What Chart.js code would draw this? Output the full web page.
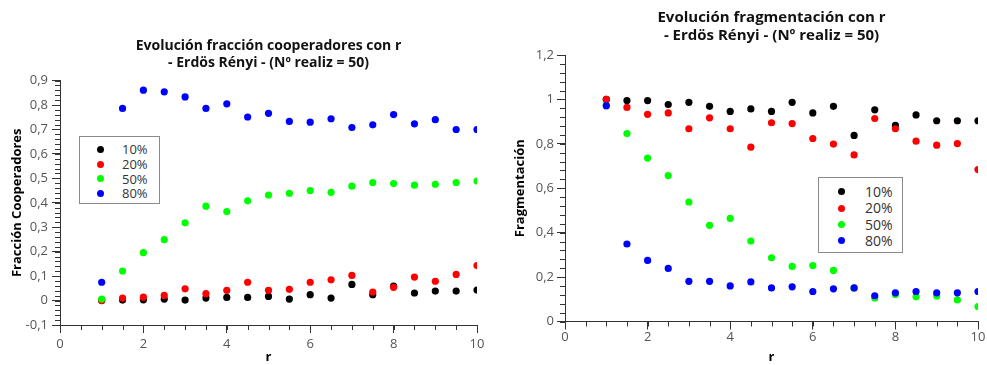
<!DOCTYPE html>
<html>
<head>
<meta charset="utf-8">
<script src="https://cdn.jsdelivr.net/npm/chart.js@4"></script>
<style>
  body { margin: 0; background: #fff; }
  #wrap { position: relative; width: 987px; height: 365px; overflow: hidden; }
  canvas { position: absolute; top: 0; }
  .legend { position: absolute; border: 1px solid #8a8a8a; background: #fff; box-sizing: border-box;
            font-family: "Open Sans", sans-serif; color: #333; }
  .legend .row { position: absolute; left: 0; right: 0; }
  .legend .dot { position: absolute; width: 7px; height: 7px; border-radius: 50%; }
  .legend .txt { position: absolute; white-space: nowrap; }
</style>
</head>
<body>
<div id="wrap">
  <canvas id="coopChart" width="490" height="365" style="left:0"></canvas>
  <canvas id="fragChart" width="497" height="365" style="left:490px"></canvas>
  <div id="coopLegend" class="legend"></div>
  <div id="fragLegend" class="legend"></div>
</div>
<script>
// ==========================
// DATA
// ==========================
const rValues = [1, 1.5, 2, 2.5, 3, 3.5, 4, 4.5, 5, 5.5, 6, 6.5, 7, 7.5, 8, 8.5, 9, 9.5, 10];
const seriesLabels = ["10%", "20%", "50%", "80%"];
const seriesColors = ["#000000", "#ff0000", "#00ff00", "#0000ff"];

// fracción cooperadores
const coop10 = [0.0, 0.002, 0.003, 0.006, 0.002, 0.010, 0.013, 0.013, 0.017, 0.006, 0.024, 0.010, 0.066, 0.024, 0.059, 0.031, 0.039, 0.039, 0.043];
const coop20 = [0.0, 0.010, 0.014, 0.021, 0.048, 0.028, 0.042, 0.075, 0.042, 0.046, 0.075, 0.085, 0.103, 0.035, 0.054, 0.096, 0.079, 0.107, 0.143];
const coop50 = [0.006, 0.121, 0.196, 0.249, 0.318, 0.386, 0.364, 0.408, 0.432, 0.439, 0.450, 0.443, 0.468, 0.483, 0.479, 0.472, 0.476, 0.483, 0.489];
const coop80 = [0.075, 0.786, 0.861, 0.854, 0.833, 0.786, 0.805, 0.751, 0.766, 0.733, 0.730, 0.744, 0.708, 0.719, 0.761, 0.723, 0.740, 0.700, 0.700];

// fragmentación
const frag10 = [1.0, 0.995, 0.995, 0.977, 0.987, 0.969, 0.946, 0.957, 0.946, 0.987, 0.939, 0.969, 0.838, 0.953, 0.883, 0.930, 0.904, 0.904, 0.904];
const frag20 = [1.0, 0.964, 0.933, 0.939, 0.868, 0.917, 0.868, 0.785, 0.895, 0.891, 0.824, 0.799, 0.750, 0.914, 0.868, 0.812, 0.794, 0.801, 0.684];
const frag50 = [0.972, 0.846, 0.736, 0.657, 0.538, 0.433, 0.464, 0.362, 0.287, 0.248, 0.252, 0.230, 0.150, 0.106, 0.122, 0.111, 0.115, 0.097, 0.067];
const frag80 = [0.972, 0.349, 0.275, 0.239, 0.181, 0.181, 0.160, 0.178, 0.151, 0.156, 0.135, 0.147, 0.151, 0.116, 0.129, 0.135, 0.129, 0.129, 0.135];

const coopTitle = ["Evolución fracción cooperadores con r", "- Erdös Rényi - (Nº realiz = 50)"];
const fragTitle = ["Evolución fragmentación con r", "- Erdös Rényi - (Nº realiz = 50)"];

// ==========================
// HELPERS
// ==========================
const fmtComma = v => String(Math.round(v * 100) / 100).replace(".", ",");

function makeDatasets(values) {
  return values.map((vals, i) => ({
    label: seriesLabels[i],
    data: rValues.map((r, j) => ({ x: r, y: vals[j] })),
    backgroundColor: seriesColors[i],
    borderWidth: 0,
    pointRadius: 3.6,
    order: values.length - i  // blue on top, black at bottom
  }));
}

// minor ticks drawn from the scales
const minorTicks = {
  id: "minorTicks",
  afterDraw(chart, args, opts) {
    const ctx = chart.ctx;
    ctx.save();
    ctx.strokeStyle = "#333";
    ctx.lineWidth = 1;
    ["x", "y"].forEach(id => {
      const scale = chart.scales[id];
      const step = opts[id];
      if (!scale || !step) return;
      const n = Math.round((scale.max - scale.min) / step);
      for (let k = 0; k <= n; k++) {
        const v = scale.min + k * step;
        ctx.beginPath();
        if (id === "x") {
          const px = Math.round(scale.getPixelForValue(v)) + 0.5;
          ctx.moveTo(px, scale.top);
          ctx.lineTo(px, scale.top + 5);
        } else {
          const py = Math.round(scale.getPixelForValue(v)) + 0.5;
          ctx.moveTo(scale.right - 5, py);
          ctx.lineTo(scale.right, py);
        }
        ctx.stroke();
      }
    });
    ctx.restore();
  }
};

function axisOpts(extra) {
  return Object.assign({
    type: "linear",
    border: { display: true, color: "#333", width: 1 },
    grid: { display: true, drawOnChartArea: false, drawTicks: true, tickLength: 8, tickColor: "#333" },
  }, extra);
}

function makeChart(canvasId, datasets, cfg) {
  return new Chart(document.getElementById(canvasId), {
    type: "scatter",
    data: { datasets },
    plugins: [minorTicks],
    options: {
      responsive: false,
      animation: false,
      events: [],
      layout: { padding: cfg.padding },
      plugins: {
        legend: { display: false },
        tooltip: { enabled: false },
        title: {
          display: true, fullSize: false, text: cfg.title, color: "#111",
          font: { family: "Open Sans", size: cfg.titleSize, weight: "bold", lineHeight: cfg.titleLH },
          padding: cfg.titlePad
        },
        minorTicks: cfg.minor
      },
      scales: {
        x: axisOpts({
          min: 0, max: 10,
          ticks: { stepSize: 2, color: "#555", padding: cfg.xTickPad, maxRotation: 0,
                   font: { family: "Open Sans", size: 13 }, callback: fmtComma },
          title: { display: true, text: "r", color: "#000", padding: 0,
                   font: { family: "Open Sans", size: 13, weight: "bold" } },
          afterFit: s => { s.height = cfg.xHeight; }
        }),
        y: axisOpts({
          min: cfg.yMin, max: cfg.yMax,
          ticks: { stepSize: cfg.yStep, color: "#555", padding: cfg.yTickPad,
                   font: { family: "Open Sans", size: 13 }, callback: fmtComma },
          title: { display: true, text: cfg.yTitle, color: "#000", padding: { top: cfg.yTitlePad, bottom: 0 },
                   font: { family: "Open Sans", size: 13, weight: "bold" } },
          afterFit: s => { s.width = cfg.yWidth; }
        })
      }
    }
  });
}

function buildLegend(elId, box) {
  const el = document.getElementById(elId);
  Object.assign(el.style, { left: box.left + "px", top: box.top + "px", width: box.w + "px", height: box.h + "px",
                            fontSize: box.font + "px" });
  seriesLabels.forEach((lab, i) => {
    const row = document.createElement("div");
    row.className = "row";
    const cy = box.first + i * box.step;
    row.innerHTML =
      `<span class="dot" style="background:${seriesColors[i]};left:${box.dotX - 3.5}px;top:${cy - 3.5}px"></span>` +
      `<span class="txt" style="left:${box.txtX}px;top:${cy - box.font * 0.7}px;line-height:${box.font * 1.4}px">${lab}</span>`;
    el.appendChild(row);
  });
}

// ==========================
// CHARTS
// ==========================
makeChart("coopChart", makeDatasets([coop10, coop20, coop50, coop80]), {
  title: coopTitle, titleSize: 14, titleLH: 1.2, titlePad: { top: 8, bottom: 9 },
  padding: { top: 30, right: 13, bottom: 0, left: 0 },
  yMin: -0.1, yMax: 0.9, yStep: 0.1, yTitle: "Fracción Cooperadores", yTitlePad: 9,
  yWidth: 60, xHeight: 40, xTickPad: 3, yTickPad: 4,
  minor: { x: 0.5, y: 0.02 }
});

makeChart("fragChart", makeDatasets([frag10, frag20, frag50, frag80]), {
  title: fragTitle, titleSize: 15, titleLH: 1.2, titlePad: { top: 3, bottom: 10 },
  padding: { top: 6, right: 9, bottom: 0, left: 0 },
  yMin: 0, yMax: 1.2, yStep: 0.2, yTitle: "Fragmentación", yTitlePad: 22,
  yWidth: 75, xHeight: 43.5, xTickPad: 0, yTickPad: 3,
  minor: { x: 0.5, y: 0.04 }
});

buildLegend("coopLegend", { left: 79, top: 136, w: 81, h: 68, font: 13, first: 12.3, step: 14.7, dotX: 20, txtX: 42 });
buildLegend("fragLegend", { left: 818, top: 177, w: 85, h: 76, font: 14, first: 13.7, step: 16.4, dotX: 22, txtX: 46 });
</script>
</body>
</html>
